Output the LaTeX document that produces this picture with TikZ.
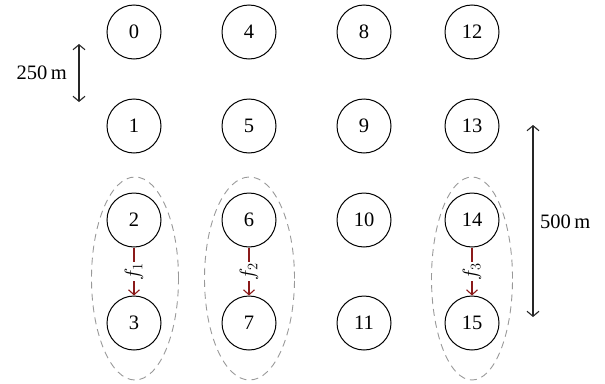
\documentclass[tikz,border=0pt]{standalone}
\usepackage{fontspec}
\setmainfont{Liberation Serif}
\usetikzlibrary{arrows.meta,shapes.geometric}
\definecolor{arrred}{HTML}{8B1A1A}
\definecolor{dgray}{HTML}{999999}
\begin{document}
\begin{tikzpicture}[x=1pt,y=-1pt,
  station/.style={circle,draw=black,line width=1pt,minimum size=54pt,inner sep=0pt,font=\fontsize{20.5}{24}\selectfont},
  group/.style={ellipse,draw=dgray,line width=0.9pt,dash pattern=on 7pt off 5pt,inner sep=0pt},
  flow/.style={draw=arrred,line width=1.1pt,-{Straight Barb[length=5pt,width=11pt,line width=1.1pt]}},
  flabel/.style={rotate=90,fill=white,inner sep=0.6pt,font=\fontsize{22}{26}\selectfont},
  dim/.style={draw=black!85,line width=1.1pt,{Straight Barb[length=5pt,width=12pt,line width=1.1pt]}-{Straight Barb[length=5pt,width=12pt,line width=1.1pt]}},
  dimlabel/.style={font=\fontsize{20.5}{24}\selectfont,inner sep=1pt}]
\useasboundingbox (0,0) rectangle (605,383);
% group ellipses
\node[group,minimum width=87pt,minimum height=203pt] (e1) at (135,278.5) {};
\node[group,minimum width=90pt,minimum height=203pt] (e2) at (249.5,278.5) {};
\node[group,minimum width=81pt,minimum height=203pt] (e3) at (472,278.5) {};
% stations
\foreach \c/\x in {0/134,1/249,2/364,3/472}{
  \foreach \r/\y in {0/32,1/126,2/220,3/323}{
    \pgfmathtruncatemacro{\n}{4*\c+\r}
    \node[station] (n\n) at (\x,\y) {\n};
  }
}
% flows
\draw[flow] (n2) -- node[flabel] {$f_1$} (n3);
\draw[flow] (n6) -- node[flabel] {$f_2$} (n7);
\draw[flow] (n14) -- node[flabel] {$f_3$} (n15);
% dimensions
\coordinate (a1) at (79,44);
\coordinate (a2) at (79,102);
\draw[dim] (a1) -- (a2);
\node[dimlabel,anchor=east] (l250) at (68,73) {250\,m};
\coordinate (b1) at (533,125);
\coordinate (b2) at (533,317);
\draw[dim] (b1) -- (b2);
\node[dimlabel,anchor=west] (l500) at (539,222) {500\,m};
\end{tikzpicture}
\end{document}
